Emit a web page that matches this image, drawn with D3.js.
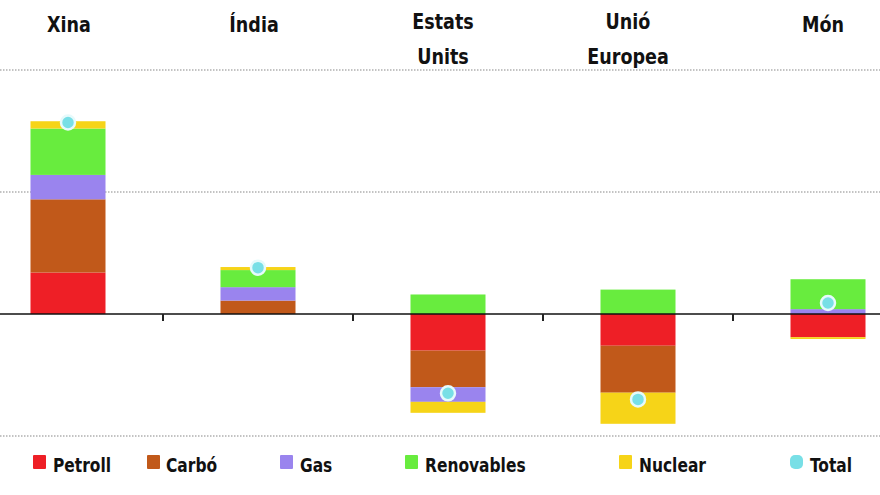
<!DOCTYPE html>
<html>
<head>
<meta charset="utf-8">
<script src="https://cdn.jsdelivr.net/npm/d3@7"></script>
<style>
  html, body { margin: 0; padding: 0; background: #ffffff; }
  svg { display: block; }
  text { font-family: "Liberation Sans Narrow", "Arial Narrow", "DejaVu Sans Condensed", sans-serif; font-weight: bold; fill: #111; }
</style>
</head>
<body>
<svg id="chart" width="880" height="495"></svg>
<script>
// ---- data ----
const categories = ["Xina", "Índia", "Estats Units", "Unió Europea", "Món"];
const categoryLines = [["Xina"], ["Índia"], ["Estats", "Units"], ["Unió", "Europea"], ["Món"]];
const seriesNames = ["Petroll", "Carbó", "Gas", "Renovables", "Nuclear"];
const petroll    = [34, 0, -30, -26, -19];
const carbo      = [60, 11, -30, -38.5, 0];
const gas        = [20, 11, -12, 0, 4];
const renovables = [38, 14, 16, 20, 24.5];
const nuclear    = [6, 2.5, -9, -25.5, -1.5];
const total      = [157, 38, -65, -70, 9];
const gridTicks  = [200, 100, -100];

const colors = ["#ee1f26", "#c1591a", "#9a84ee", "#68ec3e", "#f6d418"];
const totalColor = "#78dfe6";

// ---- layout ----
const W = 880, H = 495;
const svg = d3.select("#chart");

const x = d3.scaleBand().domain(categories).range([-27, 923]).paddingInner(0).paddingOuter(0);
const y = d3.scaleLinear().domain([-100, 200]).range([436, 70]);
const barW = 75;
const labelShift = [1, -4, -5, -10, -5];

const seriesData = [petroll, carbo, gas, renovables, nuclear];
const rows = categories.map((c, i) => {
  const r = { cat: c };
  seriesNames.forEach((s, j) => r[s] = seriesData[j][i]);
  return r;
});
const stack = d3.stack().keys(seriesNames).offset(d3.stackOffsetDiverging);
const stacked = stack(rows);

// gridlines
svg.append("g").selectAll("line").data(gridTicks).join("line")
  .attr("x1", 0).attr("x2", W)
  .attr("y1", d => y(d)).attr("y2", d => y(d))
  .attr("stroke", "#b0b0b0").attr("stroke-width", 1.6)
  .attr("stroke-dasharray", "1.5,1.5");

// bars
svg.append("g").selectAll("g").data(stacked).join("g")
  .attr("fill", (d, i) => colors[i])
  .selectAll("rect").data(d => d).join("rect")
  .attr("x", d => x(d.data.cat) + (x.bandwidth() - barW) / 2)
  .attr("width", barW)
  .attr("y", d => y(Math.max(d[0], d[1])))
  .attr("height", d => Math.abs(y(d[0]) - y(d[1])));

// zero line
svg.append("line")
  .attr("x1", 0).attr("x2", W)
  .attr("y1", y(0)).attr("y2", y(0))
  .attr("stroke", "#111").attr("stroke-width", 1.5);

// ticks at band boundaries
svg.append("g").selectAll("line").data(categories.slice(1)).join("line")
  .attr("x1", d => x(d)).attr("x2", d => x(d))
  .attr("y1", y(0)).attr("y2", y(0) + 7)
  .attr("stroke", "#222").attr("stroke-width", 2);

// totals
svg.append("g").selectAll("circle").data(categories).join("circle")
  .attr("cx", d => x(d) + x.bandwidth() / 2)
  .attr("cy", (d, i) => y(total[i]))
  .attr("r", 7)
  .attr("fill", totalColor)
  .attr("stroke", "#e6fafb").attr("stroke-width", 2.5);

// category labels
const lab = svg.append("g").selectAll("text").data(categoryLines).join("text")
  .attr("text-anchor", "middle")
  .attr("font-size", 21)
  .attr("transform", (d, i) => `translate(${x(categories[i]) + x.bandwidth() / 2 + labelShift[i]},0) scale(0.93,1)`);
lab.each(function(lines) {
  const t = d3.select(this);
  if (lines.length === 1) {
    t.append("tspan").attr("x", 0).attr("y", 32).text(lines[0]);
  } else {
    t.append("tspan").attr("x", 0).attr("y", 29).text(lines[0]);
    t.append("tspan").attr("x", 0).attr("y", 64).text(lines[1]);
  }
});

// legend
const legendX = [33, 147, 280, 405, 619, 790];
const legendItems = seriesNames.concat(["Total"]);
const legendColors = colors.concat([totalColor]);
const lg = svg.append("g").selectAll("g").data(legendItems).join("g")
  .attr("transform", (d, i) => `translate(${legendX[i]},0)`);
lg.append("rect")
  .attr("x", 0).attr("y", 455).attr("width", 13).attr("height", 14)
  .attr("rx", (d, i) => i === 5 ? 5 : 1)
  .attr("fill", (d, i) => legendColors[i]);
lg.append("text")
  .attr("transform", (d, i) => `translate(${i === 1 ? 19 : 20},472) scale(0.86,1)`)
  .attr("font-size", 20)
  .text(d => d);
</script>
</body>
</html>
